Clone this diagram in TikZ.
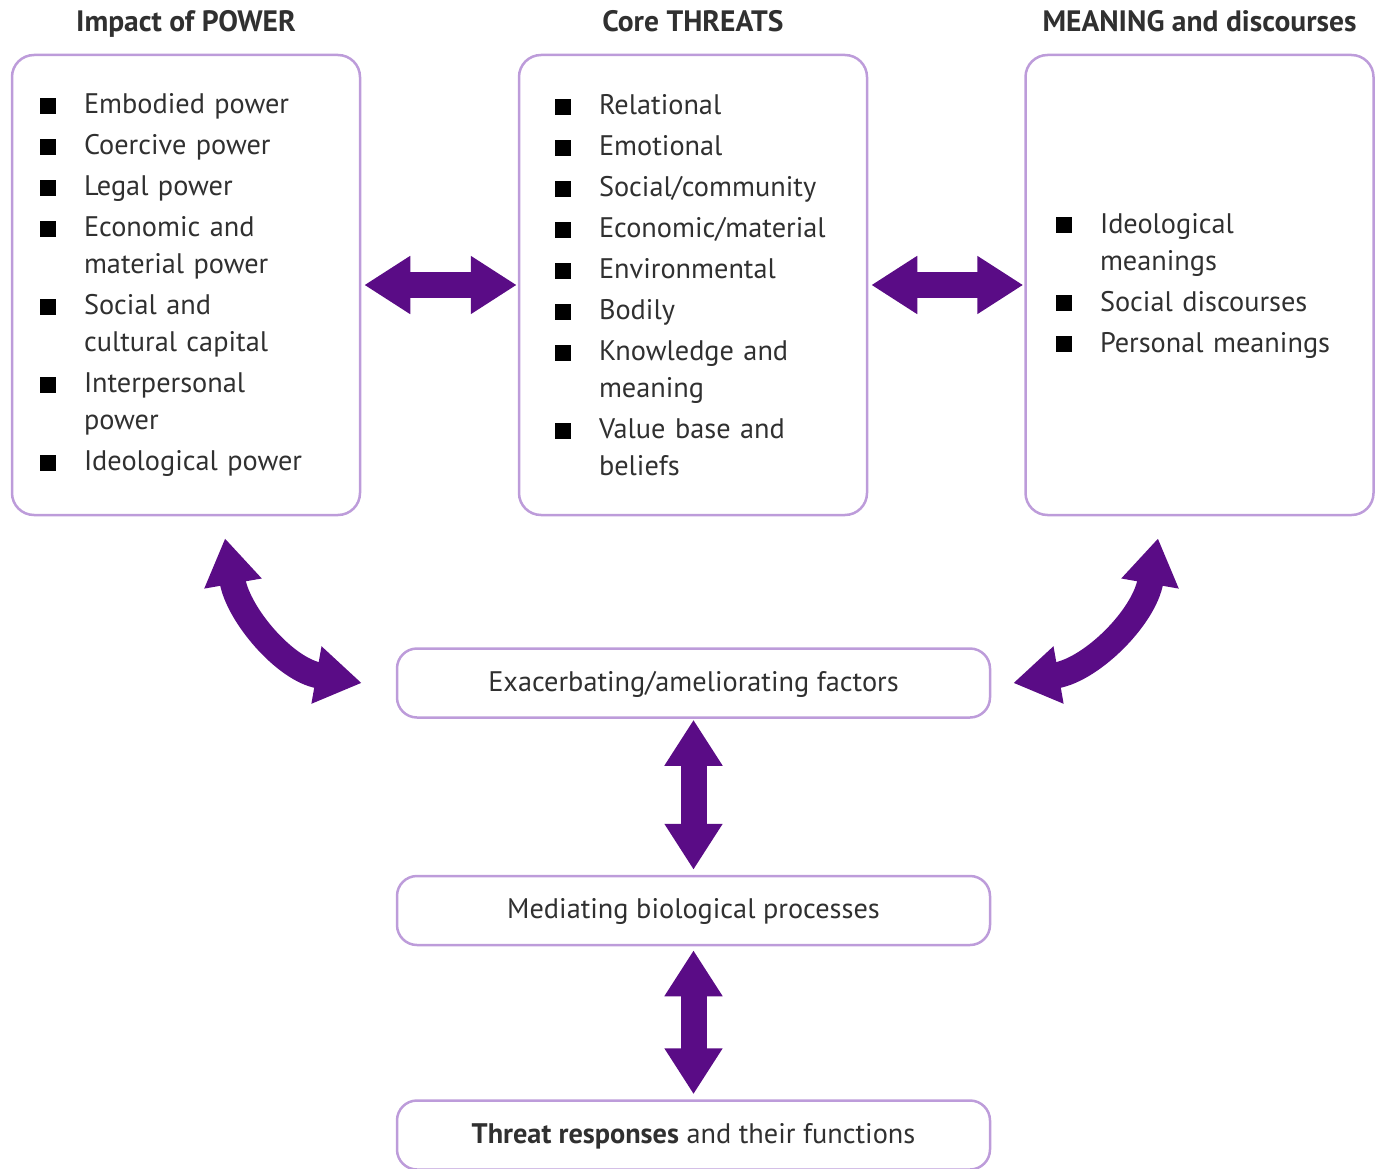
\documentclass[tikz,border=0pt]{standalone}
\usepackage{fontspec}
\setmainfont{PT Sans}
\usepackage{tikz}
\usetikzlibrary{arrows.meta,positioning}
\definecolor{arrowpurple}{HTML}{5A0C86}
\definecolor{boxline}{HTML}{BD9CDA}
\definecolor{textgray}{HTML}{303030}

% one bulleted entry with hanging lines
\newcommand{\bul}[1]{\par\hangindent=44pt\hangafter=1\noindent\makebox[44pt][l]{\textcolor{black}{\rule{16pt}{16pt}}}#1\par}

\begin{document}
\begin{tikzpicture}[x=1pt,y=1pt,
    listbox/.style={draw=boxline, line width=2.5pt, rounded corners=22pt,
        minimum width=348pt, minimum height=460pt, text width=292pt, align=left,
        text=textgray, font=\fontsize{28.3}{37}\selectfont,
        execute at begin node={\parskip=4pt}},
    smallbox/.style={draw=boxline, line width=2.5pt, rounded corners=20pt,
        minimum width=593pt, minimum height=69pt, text=textgray,
        text height=24pt, text depth=8pt, font=\fontsize{28.3}{30}\selectfont},
    head/.style={text=textgray, font=\fontsize{29.5}{32}\selectfont\bfseries},
    bigarrow/.style={draw=arrowpurple, line width=26pt,
        {Triangle[width=55pt,length=46pt]}-{Triangle[width=55pt,length=46pt]}}]
    \useasboundingbox (0,0) rectangle (1375,-1169);

    % Top boxes
    \node[listbox] (power) at (186,-285) {\vspace*{-20pt}%
        \bul{Embodied power}
        \bul{Coercive power}
        \bul{Legal power}
        \bul{Economic and\newline material power}
        \bul{Social and\newline cultural capital}
        \bul{Interpersonal\newline power}
        \bul{Ideological power}};
    \node[listbox, text width=276pt] (threats) at (693,-285) {\vspace*{-20pt}%
        \bul{Relational}
        \bul{Emotional}
        \bul{Social/community}
        \bul{Economic/material}
        \bul{Environmental}
        \bul{Bodily}
        \bul{Knowledge and\newline meaning}
        \bul{Value base and\newline beliefs}};
    \node[listbox, text width=287pt] (meaning) at (1199.5,-285) {\vspace*{-20pt}%
        \bul{Ideological\newline meanings}
        \bul{Social discourses}
        \bul{Personal meanings}};

    % Headings
    \node[head, anchor=base] (powerhead) at ([yshift=22pt]power.north) {Impact of POWER};
    \node[head, anchor=base] (threatshead) at ([yshift=22pt]threats.north) {Core THREATS};
    \node[head, anchor=base] (meaninghead) at ([yshift=22pt]meaning.north) {MEANING and discourses};

    % Lower boxes
    \node[smallbox] (factors) at (693.5,-683) {Exacerbating/ameliorating factors};
    \node[smallbox] (biology) at (693.5,-910.5) {Mediating biological processes};
    \node[smallbox] (responses) at (693.5,-1135) {\textbf{Threat responses} and their functions};

    % Arrows
    \draw[bigarrow] ([xshift=3pt]power.east) -- ([xshift=-1pt]threats.west);
    \draw[bigarrow] ([xshift=3pt]threats.east) -- ([xshift=-1pt]meaning.west);
    \draw[bigarrow] ([xshift=39pt,yshift=-22pt]power.south) to[out=-80,in=170] ([xshift=-34pt]factors.west);
    \draw[bigarrow] ([xshift=-41.5pt,yshift=-22pt]meaning.south) to[out=-100,in=10] ([xshift=22pt]factors.east);
    \draw[bigarrow] ([yshift=-1pt]factors.south) -- ([yshift=5pt]biology.north);
    \draw[bigarrow] ([yshift=-4pt]biology.south) -- ([yshift=5pt]responses.north);
\end{tikzpicture}
\end{document}
